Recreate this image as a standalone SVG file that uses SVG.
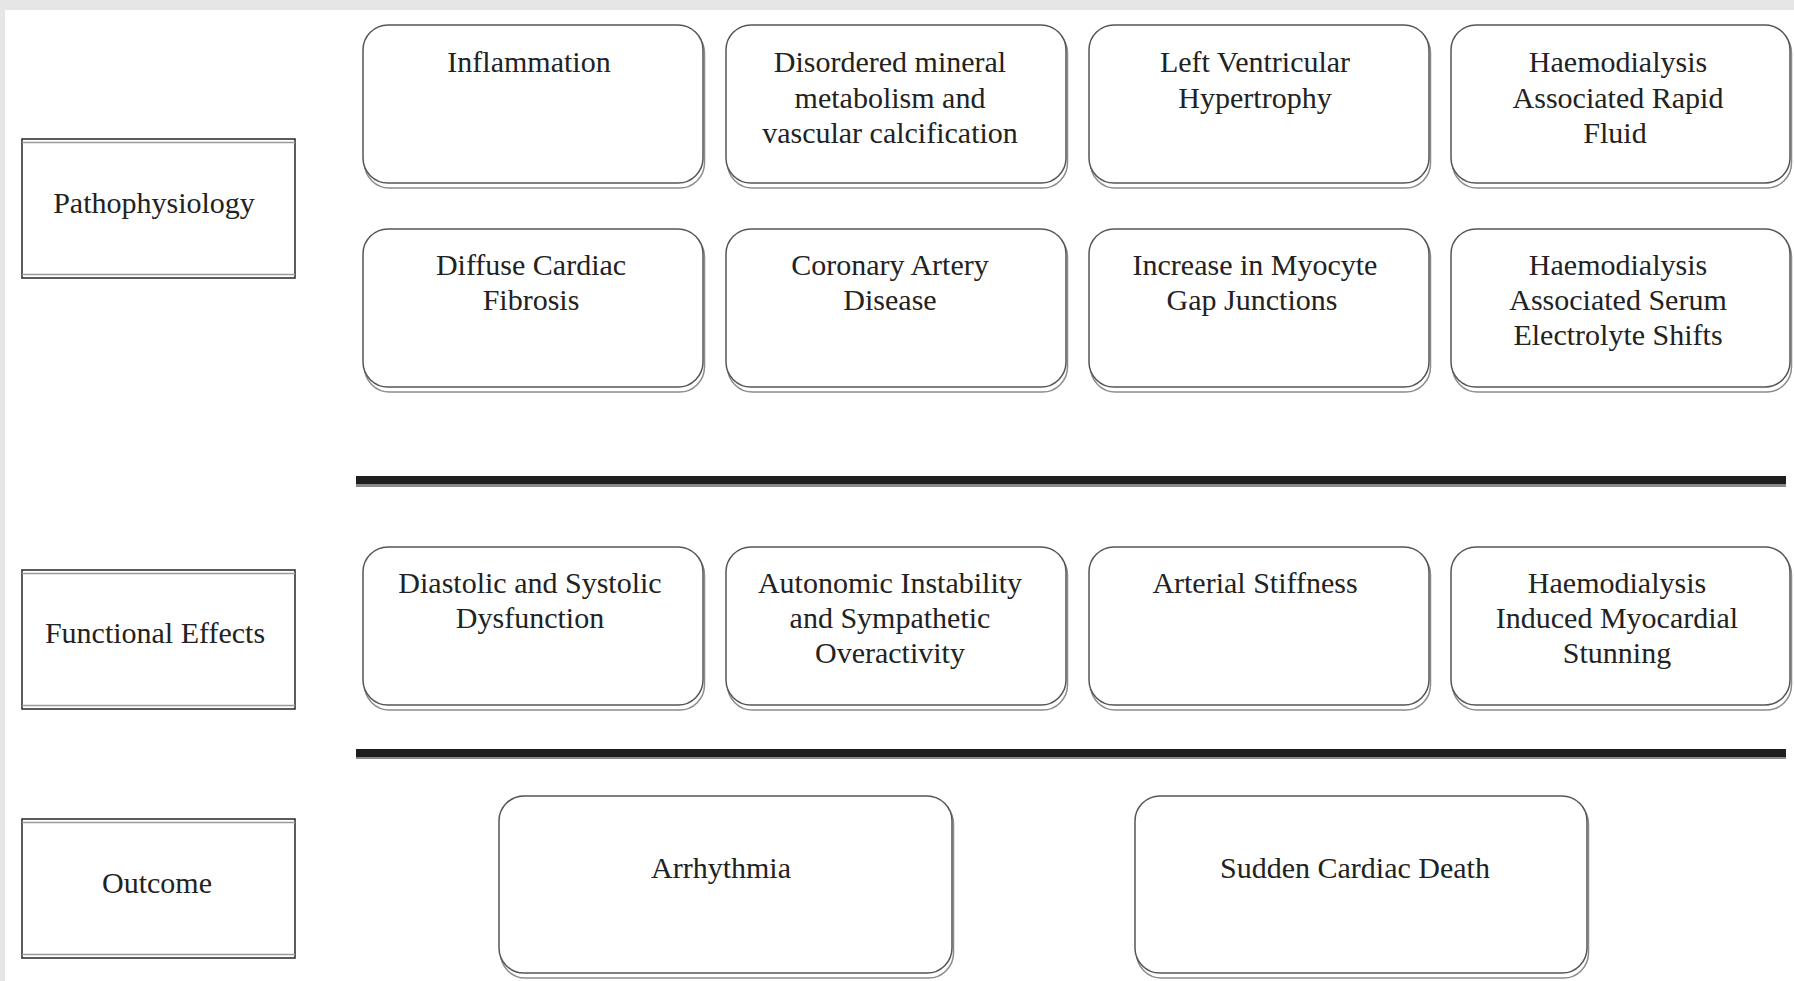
<svg xmlns="http://www.w3.org/2000/svg" width="1794" height="981" viewBox="0 0 1794 981">
<style>
.bg{fill:#e6e6e6}
.paper{fill:#ffffff}
.a{fill:#ffffff;stroke:#555555;stroke-width:1.5}
.b{fill:none;stroke:#8c8c8c;stroke-width:1.5}
.lbl{fill:#ffffff;stroke:#333333;stroke-width:1.6}
.lblin{stroke:#9a9a9a;stroke-width:1.4}
.t{font-family:"Liberation Serif","Times New Roman",serif;font-size:30px;fill:#222222;text-anchor:middle}
.bar{fill:#1e1e1e}
.barsh{fill:#8a8a8a}
</style>
<rect class="bg" x="0" y="0" width="1794" height="981"/>
<rect class="paper" x="5" y="10" width="1789" height="971"/>

<g id="label-pathophysiology">
<rect class="lbl" x="22" y="139" width="273" height="139"/>
<line class="lblin" x1="22" y1="142.5" x2="295" y2="142.5"/>
<line class="lblin" x1="22" y1="274.5" x2="295" y2="274.5"/>
<text class="t" x="154" y="213">Pathophysiology</text>
</g>
<g id="label-functional">
<rect class="lbl" x="22" y="570" width="273" height="139"/>
<line class="lblin" x1="22" y1="573.5" x2="295" y2="573.5"/>
<line class="lblin" x1="22" y1="705.5" x2="295" y2="705.5"/>
<text class="t" x="155" y="643">Functional Effects</text>
</g>
<g id="label-outcome">
<rect class="lbl" x="22" y="819" width="273" height="139"/>
<line class="lblin" x1="22" y1="822.5" x2="295" y2="822.5"/>
<line class="lblin" x1="22" y1="954.5" x2="295" y2="954.5"/>
<text class="t" x="157" y="893">Outcome</text>
</g>

<g id="n-inflammation">
<rect class="b" x="364.5" y="28" width="340" height="160" rx="25"/>
<rect class="a" x="363" y="25" width="340" height="158" rx="25"/>
<text class="t" x="529" y="72">Inflammation</text>
</g>
<g id="n-mineral">
<rect class="b" x="727.5" y="28" width="340" height="160" rx="25"/>
<rect class="a" x="726" y="25" width="340" height="158" rx="25"/>
<text class="t" x="890" y="72">Disordered mineral</text>
<text class="t" x="890" y="107.5">metabolism and</text>
<text class="t" x="890" y="143">vascular calcification</text>
</g>
<g id="n-lvh">
<rect class="b" x="1090.5" y="28" width="340" height="160" rx="25"/>
<rect class="a" x="1089" y="25" width="340" height="158" rx="25"/>
<text class="t" x="1255" y="72">Left Ventricular</text>
<text class="t" x="1255" y="107.5">Hypertrophy</text>
</g>
<g id="n-fluid">
<rect class="b" x="1452.5" y="28" width="339" height="160" rx="25"/>
<rect class="a" x="1451" y="25" width="339" height="158" rx="25"/>
<text class="t" x="1618" y="72">Haemodialysis</text>
<text class="t" x="1618" y="107.5">Associated Rapid</text>
<text class="t" x="1615" y="143">Fluid</text>
</g>

<g id="n-fibrosis">
<rect class="b" x="364.5" y="232" width="340" height="160" rx="25"/>
<rect class="a" x="363" y="229" width="340" height="158" rx="25"/>
<text class="t" x="531" y="275">Diffuse Cardiac</text>
<text class="t" x="531" y="310">Fibrosis</text>
</g>
<g id="n-cad">
<rect class="b" x="727.5" y="232" width="340" height="160" rx="25"/>
<rect class="a" x="726" y="229" width="340" height="158" rx="25"/>
<text class="t" x="890" y="275">Coronary Artery</text>
<text class="t" x="890" y="310">Disease</text>
</g>
<g id="n-gap">
<rect class="b" x="1090.5" y="232" width="340" height="160" rx="25"/>
<rect class="a" x="1089" y="229" width="340" height="158" rx="25"/>
<text class="t" x="1255" y="275">Increase in Myocyte</text>
<text class="t" x="1252" y="310">Gap Junctions</text>
</g>
<g id="n-electrolyte">
<rect class="b" x="1452.5" y="232" width="339" height="160" rx="25"/>
<rect class="a" x="1451" y="229" width="339" height="158" rx="25"/>
<text class="t" x="1618" y="275">Haemodialysis</text>
<text class="t" x="1618" y="310">Associated Serum</text>
<text class="t" x="1618" y="345">Electrolyte Shifts</text>
</g>

<g id="n-dysfunction">
<rect class="b" x="364.5" y="550" width="340" height="160" rx="25"/>
<rect class="a" x="363" y="547" width="340" height="158" rx="25"/>
<text class="t" x="530" y="593">Diastolic and Systolic</text>
<text class="t" x="530" y="628">Dysfunction</text>
</g>
<g id="n-autonomic">
<rect class="b" x="727.5" y="550" width="340" height="160" rx="25"/>
<rect class="a" x="726" y="547" width="340" height="158" rx="25"/>
<text class="t" x="890" y="593">Autonomic Instability</text>
<text class="t" x="890" y="628">and Sympathetic</text>
<text class="t" x="890" y="663">Overactivity</text>
</g>
<g id="n-stiffness">
<rect class="b" x="1090.5" y="550" width="340" height="160" rx="25"/>
<rect class="a" x="1089" y="547" width="340" height="158" rx="25"/>
<text class="t" x="1255" y="593">Arterial Stiffness</text>
</g>
<g id="n-stunning">
<rect class="b" x="1452.5" y="550" width="339" height="160" rx="25"/>
<rect class="a" x="1451" y="547" width="339" height="158" rx="25"/>
<text class="t" x="1617" y="593">Haemodialysis</text>
<text class="t" x="1617" y="628">Induced Myocardial</text>
<text class="t" x="1617" y="663">Stunning</text>
</g>

<g id="n-arrhythmia">
<rect class="b" x="500.5" y="799" width="453" height="179" rx="25"/>
<rect class="a" x="499" y="796" width="453" height="177" rx="25"/>
<text class="t" x="721" y="878">Arrhythmia</text>
</g>
<g id="n-scd">
<rect class="b" x="1136.5" y="799" width="452" height="179" rx="25"/>
<rect class="a" x="1135" y="796" width="452" height="177" rx="25"/>
<text class="t" x="1355" y="878">Sudden Cardiac Death</text>
</g>

<g id="connectors">
<rect class="barsh" x="356" y="482" width="1430" height="5"/>
<rect class="bar" x="356" y="476" width="1430" height="8"/>
<rect class="barsh" x="356" y="755" width="1430" height="4"/>
<rect class="bar" x="356" y="749" width="1430" height="8"/>
</g>
</svg>
